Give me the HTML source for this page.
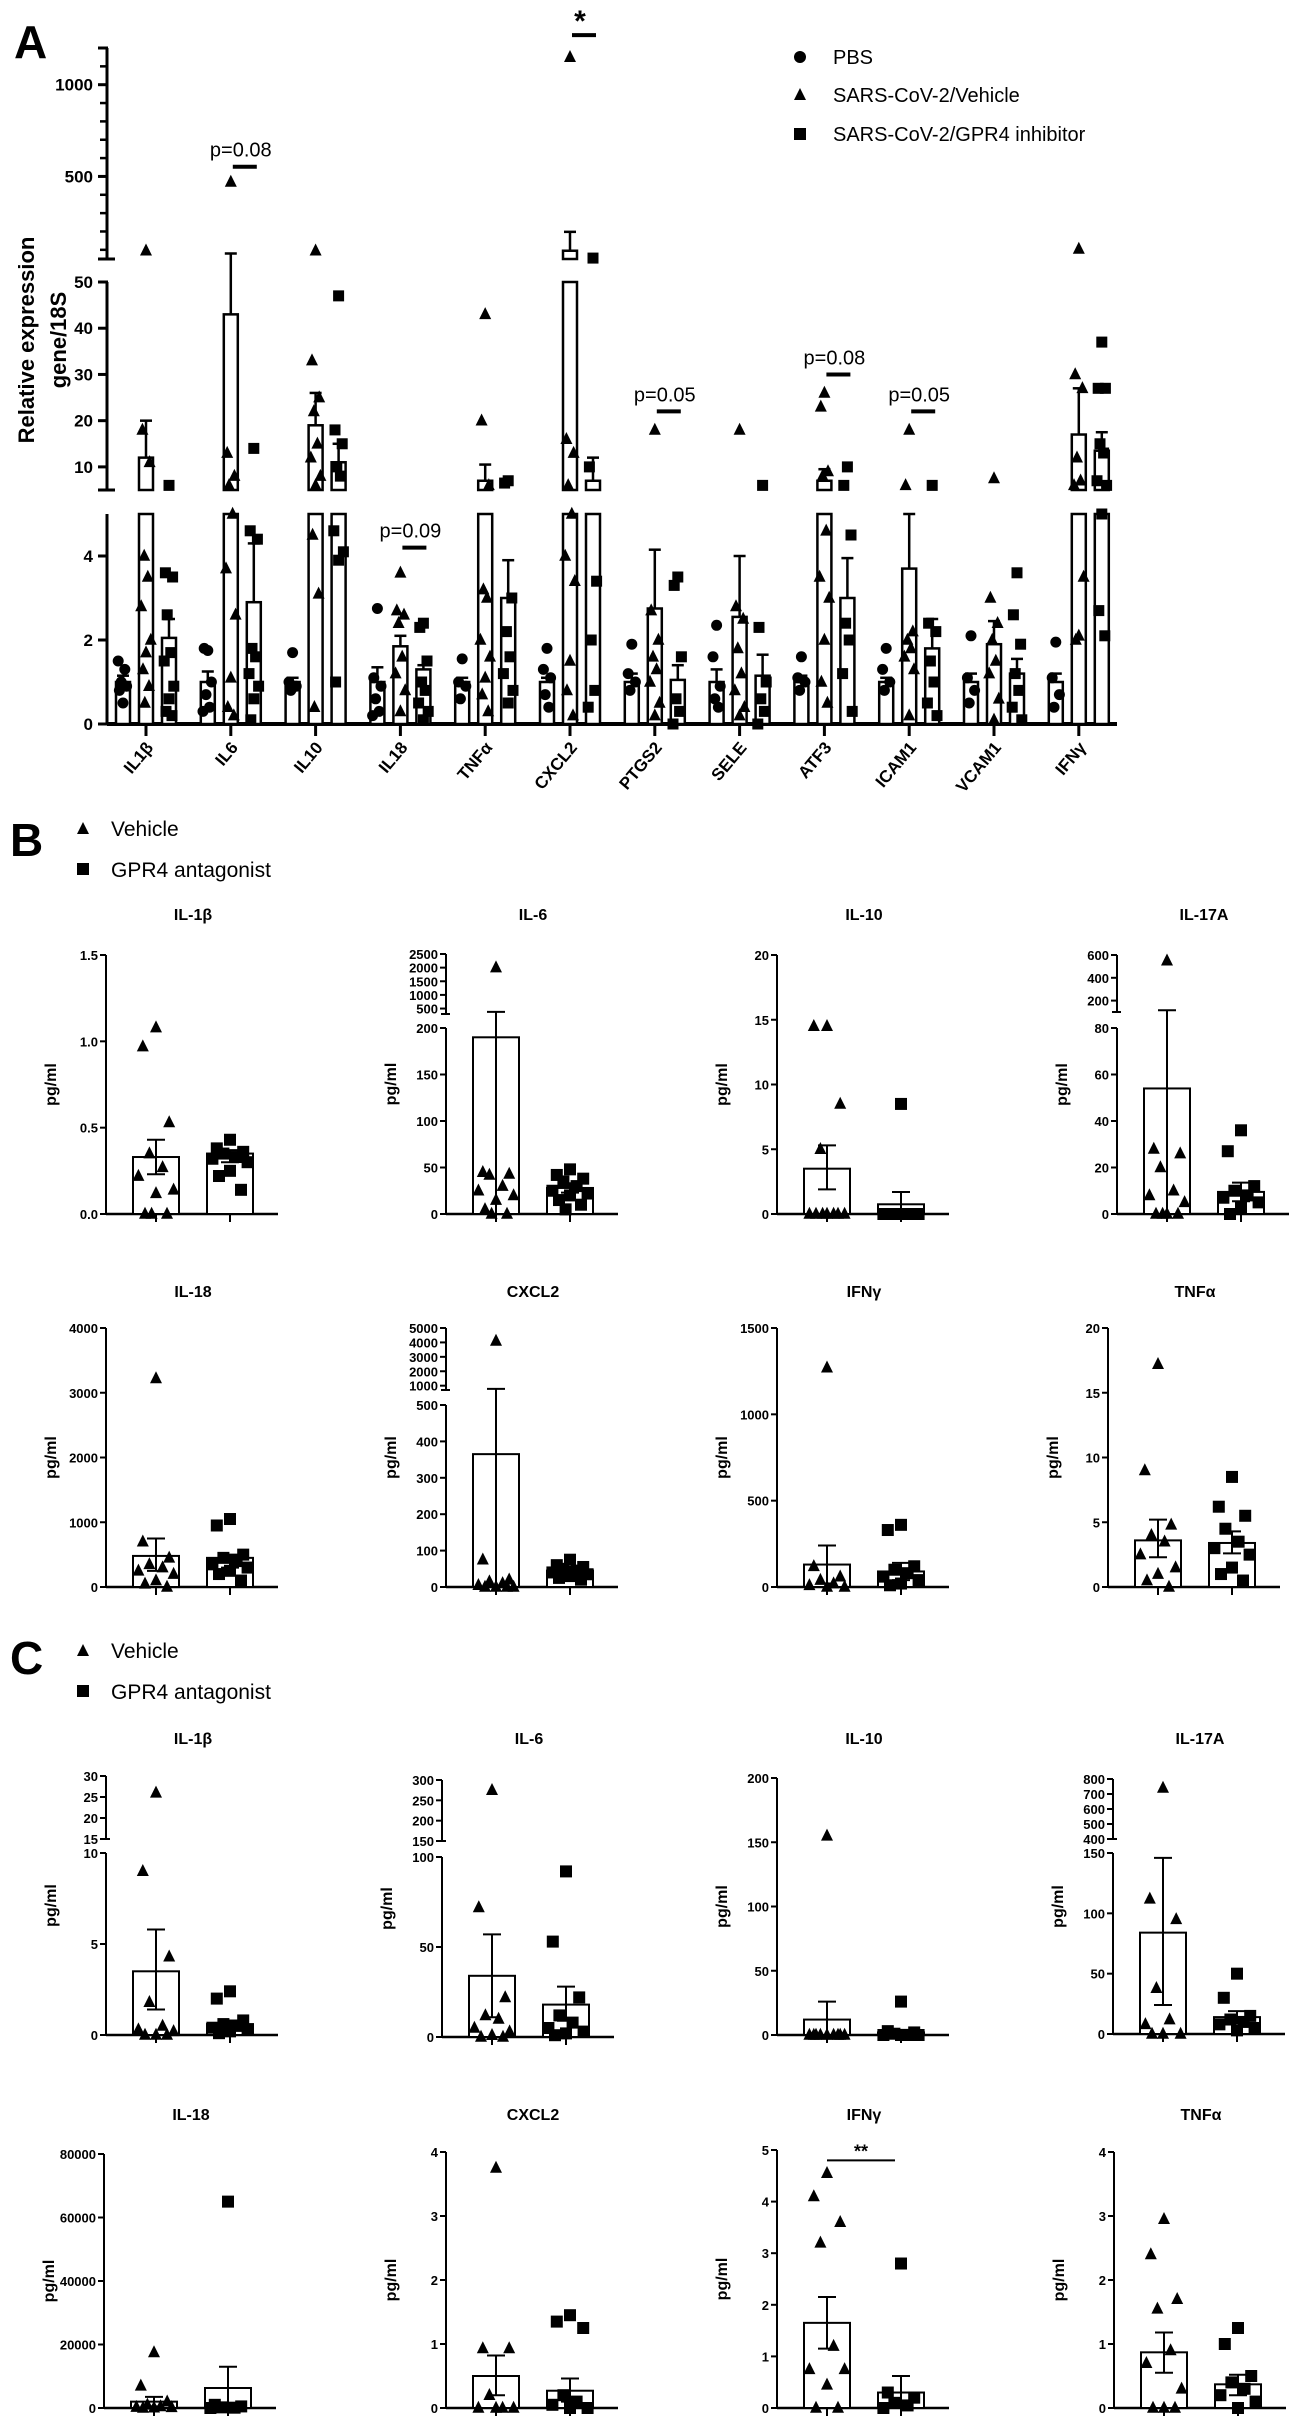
<!DOCTYPE html>
<html><head><meta charset="utf-8"><title>Figure</title>
<style>
html,body{margin:0;padding:0;background:#fff;}
svg{display:block;font-family:"Liberation Sans",Arial,sans-serif;}
.tk{font-size:13px;font-weight:bold;text-anchor:end;}
.ttl{font-size:16px;font-weight:bold;text-anchor:middle;}
</style></head>
<body>
<svg id="fig" xmlns="http://www.w3.org/2000/svg" width="1301" height="2422" viewBox="0 0 1301 2422">
<rect x="0" y="0" width="1301" height="2422" fill="#fff"/>
<text x="14" y="58" font-size="46" font-weight="bold">A</text>
<text x="10" y="856" font-size="46" font-weight="bold">B</text>
<text x="10" y="1674" font-size="46" font-weight="bold">C</text>
<text transform="translate(34,340) rotate(-90)" font-size="22" font-weight="bold" text-anchor="middle">Relative expression</text>
<text transform="translate(66,340) rotate(-90)" font-size="22" font-weight="bold" text-anchor="middle">gene/18S</text>
<g>
<circle cx="800" cy="57" r="6" fill="#000"/>
<text x="833" y="64" font-size="20">PBS</text>
<polygon points="800,88 806,100 794,100" fill="#000"/>
<text x="833" y="102" font-size="20">SARS-CoV-2/Vehicle</text>
<rect x="794" y="128" width="12" height="12" fill="#000"/>
<text x="833" y="141" font-size="20">SARS-CoV-2/GPR4 inhibitor</text>
</g>
<g>
<polygon points="83,822 89,834 77,834" fill="#000"/>
<text x="111" y="836" font-size="21">Vehicle</text>
<rect x="77" y="863" width="12" height="12" fill="#000"/>
<text x="111" y="877" font-size="21">GPR4 antagonist</text>
</g>
<g>
<polygon points="83,1644 89,1656 77,1656" fill="#000"/>
<text x="111" y="1658" font-size="21">Vehicle</text>
<rect x="77" y="1685" width="12" height="12" fill="#000"/>
<text x="111" y="1699" font-size="21">GPR4 antagonist</text>
</g>
</svg>
<script>
// ===== Panel A data =====
const A_genes=["IL1β","IL6","IL10","IL18","TNFα","CXCL2","PTGS2","SELE","ATF3","ICAM1","VCAM1","IFNγ"];
const A_pbsMean=[1,1,1,1,1,1,1,1,1,1,1,1];
const A_pbsErr=[1.15,1.25,1.1,1.35,1.1,1.1,1.2,1.3,1.15,1.1,1.2,1.2];
const A_vehMean=[12,43,19,1.85,7,95,2.75,2.55,7,3.7,1.9,17];
const A_vehErr=[20,80,26,2.1,10.5,198,4.15,4.0,9.5,5,2.45,27];
const A_gprMean=[2.05,2.9,11,1.3,3.0,7,1.05,1.15,3.0,1.8,1.2,13.5];
const A_gprErr=[2.5,4.3,15,1.4,3.9,12,1.4,1.65,3.95,2.5,1.55,17.5];
const A_pbsPts=[[0.5,0.8,0.9,1.0,1.3,1.5],[1.75,1.8,1.0,0.7,0.4,0.3],[1.7,1.0,0.9,0.8],[2.75,1.1,0.9,0.6,0.3,0.2],[1.55,1.0,0.9,0.6],[1.8,1.3,1.1,0.7,0.4],[1.9,1.2,1.0,0.8],[2.35,1.6,0.9,0.6,0.4],[1.6,1.1,1.0,0.8],[1.8,1.3,1.0,0.8],[2.1,1.1,0.8,0.5],[1.95,1.1,0.7,0.4]];
const A_vehPts=[[95,18,11,4.0,3.5,2.8,2.0,1.7,1.3,0.9,0.5],[470,13,8,6,5,3.7,2.6,1.1,0.4,0.2],[95,33,25,22,15,12,8,6,4.5,3.1,0.4],[3.6,2.7,2.6,2.4,1.6,1.2,0.8,0.3],[43,20,6,3.2,3.0,2.0,1.6,1.1,0.7,0.3],[1150,16,13,6,5,4.0,3.4,1.5,0.8,0.2],[18,2.7,2.0,1.6,1.3,1.0,0.5,0.2],[18,2.8,2.5,1.8,1.2,0.8,0.4,0.2],[26,23,9,8,4.6,3.5,3.0,2.0,1.0,0.5],[18,6,2.2,2.0,1.8,1.6,1.3,0.2],[7.5,3.0,2.4,2.0,1.5,1.2,0.6,0.1],[105,30,27,12,7,6,3.5,2.1,2.0]];
const A_gprPts=[[6,3.6,3.5,2.6,1.7,1.5,0.9,0.6,0.3,0.2],[14,4.6,4.4,1.8,1.6,1.2,0.9,0.6,0.1],[47,18,15,10,8,4.6,4.1,3.9,1.0],[2.4,2.3,1.5,1.0,0.8,0.5,0.3,0.1],[7,6.5,3.0,2.2,1.6,1.2,0.8,0.5],[55,10,3.4,2.0,0.8,0.4],[3.5,3.3,1.6,0.6,0.3,0.0],[6,2.3,1.0,0.6,0.3,0.0],[10,6,4.5,2.4,2.0,1.2,0.3],[6,2.4,2.2,1.5,1.0,0.5,0.2],[3.6,2.6,1.9,1.2,0.8,0.4,0.1],[37,27,27,15,13,7,6,5,2.7,2.1]];
const A_sigText=["p=0.08","*","p=0.09","p=0.05","p=0.08","p=0.05"];
const A_sigGene=[1,5,3,6,8,9];
const A_sigValue=[553,1270,4.2,22,30,22];

// ===== Panel B data =====
const B_titles=["IL-1β","IL-6","IL-10","IL-17A","IL-18","CXCL2","IFNγ","TNFα"];
const B_vehMean=[0.33,190,3.5,54,480,365,130,3.6];
const B_vehLo=[0.23,0,1.9,0,250,0,20,2.3];
const B_vehHi=[0.43,380,5.3,115,750,780,240,5.2];
const B_gprMean=[0.35,28,0.75,9.5,450,45,90,3.4];
const B_gprLo=[0.3,23,0,5.5,300,35,40,2.6];
const B_gprHi=[0.37,33,1.7,13.5,500,55,140,4.3];
const B_vehPts=[[1.08,0.97,0.53,0.35,0.27,0.22,0.14,0.12,0,0,0],[2000,45,43,42,30,25,20,15,5,0,0],[14.5,14.5,8.5,5,0,0,0,0,0,0,0],[550,28,26,20,10,8,5,0,0,0,0],[3220,700,450,350,300,250,200,100,50,0],[4100,75,20,15,10,5,0,0,0,0],[1270,120,60,40,20,10,0,0],[17.2,9,4.8,4.0,3.5,2.5,1.5,1.0,0.5,0]];
const B_gprPts=[[0.43,0.38,0.36,0.35,0.33,0.32,0.3,0.25,0.22,0.14],[48,42,38,35,30,25,22,20,15,10,5],[8.5,0,0,0,0,0,0,0,0,0],[36,27,12,10,8,7,5,3,0],[1050,950,500,450,400,350,300,250,200,100],[75,60,55,50,45,40,35,30,25,20],[360,330,120,100,80,60,40,20,10],[8.5,6.2,5.5,4.5,3.5,3.0,2.5,1.5,1.0,0.5]];

// ===== Panel C data =====
const C_titles=["IL-1β","IL-6","IL-10","IL-17A","IL-18","CXCL2","IFNγ","TNFα"];
const C_vehMean=[3.5,34,12,84,2000,0.5,1.65,0.87];
const C_vehLo=[1.4,11,0,24,500,0.2,1.15,0.55];
const C_vehHi=[5.8,57,26,146,3500,0.82,2.15,1.18];
const C_gprMean=[0.6,18,2,14,6300,0.27,0.3,0.37];
const C_gprLo=[0.3,9,0,9,0,0.1,0,0.2];
const C_gprHi=[0.8,28,4,19,13000,0.46,0.62,0.52];
const C_vehPts=[[26,9,4.3,1.8,0.5,0.3,0.2,0,0,0],[275,72,22,12,10,5,3,1,0,0],[155,0,0,0,0,0,0,0,0,0],[740,112,95,38,12,8,0,0,0],[17500,7000,2000,1000,500,300,200,100,0],[3.75,0.93,0.93,0.2,0,0,0,0],[4.55,4.1,3.6,3.2,1.2,0.75,0.75,0.45,0,0],[2.95,2.4,1.7,1.55,0.9,0.7,0.3,0,0,0]];
const C_gprPts=[[2.4,2.0,0.8,0.6,0.5,0.4,0.3,0.2,0.1],[92,53,22,12,8,5,3,2,1],[26,3,2,1,0,0,0,0],[50,30,15,12,10,8,5,3],[65000,1000,500,200,100,0],[1.45,1.35,1.25,0.2,0.1,0.05,0,0],[2.8,0.3,0.2,0.1,0.05,0],[1.25,1.0,0.5,0.4,0.3,0.2,0.1,0]];

const NS='http://www.w3.org/2000/svg';
const svg=document.getElementById('fig');
function mk(tag,attrs,name,parent){
  const e=document.createElementNS(NS,tag);
  for(const k in attrs) e.setAttribute(k,attrs[k]);
  
  
  (parent||svg).appendChild(e);
  return e;
}
function scaleFrom(segs){
  return function(v){
    for(let i=0;i<segs.length;i++){
      const s=segs[i];
      if(v<=s.d1||i===segs.length-1){
        const vv=Math.max(v,s.d0);
        return s.p0+(vv-s.d0)/(s.d1-s.d0)*(s.p1-s.p0);
      }
    }
  };
}
function segBar(g,segs,y,cx,w,v,name,sw){
  segs.forEach(function(s){
    if(v>s.d0){
      const top=y(Math.min(v,s.d1)), bot=s.p0;
      mk('rect',{x:cx-w/2,y:top,width:w,height:Math.max(0,bot-top),fill:'#fff',stroke:'#000','stroke-width':sw},name,g);
    }
  });
}
function marker(g,type,x,y,s,name){
  if(type==='c') mk('circle',{cx:x,cy:y,r:s/2,fill:'#000'},name,g);
  else if(type==='t') mk('polygon',{points:(x)+','+(y-s*0.6)+' '+(x+s/2)+','+(y+s*0.4)+' '+(x-s/2)+','+(y+s*0.4),fill:'#000'},name,g);
  else mk('rect',{x:x-s/2,y:y-s/2,width:s,height:s,fill:'#000'},name,g);
}
const jit=[0,-6,6,-3,3,-8,8,0,-5,5,-2,2];

// ===== Draw panel A =====
(function(){
  const g=mk('g',{},'panel-a-chart');
  const segs=[{d0:0,d1:5,p0:724,p1:514},{d0:5,d1:50,p0:490,p1:282},{d0:50,d1:1200,p0:259,p1:48}];
  const y=scaleFrom(segs);
  const ax=107, x0=146, dx=84.8;
  const xg=function(i){return x0+i*dx;};
  segs.forEach(function(s,i){
    mk('line',{x1:ax,y1:s.p0,x2:ax,y2:s.p1,stroke:'#000','stroke-width':3},'y-axis-segment-'+i,g);
    mk('line',{x1:ax-9,y1:s.p0,x2:ax+8,y2:s.p0,stroke:'#000','stroke-width':3},'axis-break-cap',g);
    if(i>0) mk('line',{x1:ax-9,y1:s.p1,x2:ax+1,y2:s.p1,stroke:'#000','stroke-width':3},'axis-cap',g);
  });
  const tickV=[0,2,4,10,20,30,40,50,500,1000];
  tickV.forEach(function(v){
    const yy=y(v);
    mk('line',{x1:ax-9,y1:yy,x2:ax,y2:yy,stroke:'#000','stroke-width':3},'y-tick',g);
    const t=mk('text',{x:ax-14,y:yy+6,'font-size':17,'font-weight':'bold','text-anchor':'end'},'y-tick-label',g);
    t.textContent=v;
  });
  for(let v=100;v<=1200;v+=100){ if(v%500===0) continue;
    mk('line',{x1:ax-7,y1:y(v),x2:ax,y2:y(v),stroke:'#000','stroke-width':2.5},'y-minor-tick',g);}
  mk('line',{x1:ax,y1:724,x2:1117,y2:724,stroke:'#000','stroke-width':4},'x-axis',g);
  A_genes.forEach(function(name,i){
    const gx=xg(i);
    const gg=mk('g',{},'gene-group-'+name,g);
    mk('line',{x1:gx,y1:724,x2:gx,y2:736,stroke:'#000','stroke-width':3},'x-tick',gg);
    const lb=mk('text',{transform:'translate('+(gx+8)+',748) rotate(-50)','font-size':17,'font-weight':'bold','text-anchor':'end'},'x-tick-label',gg);
    lb.textContent=name;
    const groups=[[A_pbsMean,A_pbsErr,A_pbsPts,'c',-23,11],[A_vehMean,A_vehErr,A_vehPts,'t',0,12],[A_gprMean,A_gprErr,A_gprPts,'s',23,11]];
    groups.forEach(function(gr,k){
      const cx=gx+gr[4];
      segBar(gg,segs,y,cx,14,gr[0][i],'bar',2.5);
      mk('line',{x1:cx,y1:y(gr[0][i]),x2:cx,y2:y(gr[1][i]),stroke:'#000','stroke-width':2.5},'error-bar',gg);
      mk('line',{x1:cx-6,y1:y(gr[1][i]),x2:cx+6,y2:y(gr[1][i]),stroke:'#000','stroke-width':2.5},'error-cap',gg);
      gr[2][i].forEach(function(v,j){
        marker(gg,gr[3],cx+jit[j%jit.length]*0.6,y(v),gr[5],'data-point');
      });
    });
  });
  A_sigText.forEach(function(txt,k){
    const cx=xg(A_sigGene[k])+14, yy=y(A_sigValue[k]);
    mk('line',{x1:cx-12,y1:yy,x2:cx+12,y2:yy,stroke:'#000','stroke-width':4},'significance-bar',g);
    const t=mk('text',{x:cx-4,y:yy-(txt==='*'?4:10),'font-size':txt==='*'?30:20,'font-weight':txt==='*'?'bold':'normal','text-anchor':'middle'},'significance-label',g);
    t.textContent=txt;
  });
})();

// ===== Small charts (B, C) =====
function smallChart(prefix,title,ax,titleY,segs,ticks,labelFmt,vm,vlo,vhi,gm,glo,ghi,vp,gp,idx){
  const g=mk('g',{},prefix+'-chart-'+title);
  const y=scaleFrom(segs);
  const zero=segs[0].p0;
  const tt=mk('text',{x:ax+87,y:titleY,class:'ttl'},'chart-title',g);
  tt.textContent=title;
  const top=segs[segs.length-1].p1;
  const yl=mk('text',{transform:'translate('+(ax-50)+','+((top+zero)/2)+') rotate(-90)','font-size':16,'font-weight':'bold','text-anchor':'middle'},'y-axis-title',g);
  yl.textContent='pg/ml';
  segs.forEach(function(s,i){
    mk('line',{x1:ax,y1:s.p0,x2:ax,y2:s.p1,stroke:'#000','stroke-width':2},'y-axis-segment',g);
    if(segs.length>1){
      mk('line',{x1:ax-5,y1:s.p0,x2:ax+4,y2:s.p0,stroke:'#000','stroke-width':2},'axis-break-cap',g);
    }
  });
  ticks.forEach(function(v){
    const yy=y(v);
    mk('line',{x1:ax-6,y1:yy,x2:ax,y2:yy,stroke:'#000','stroke-width':2},'y-tick',g);
    const t=mk('text',{x:ax-8,y:yy+5,class:'tk'},'y-tick-label',g);
    t.textContent=labelFmt(v);
  });
  mk('line',{x1:ax,y1:zero,x2:ax+172,y2:zero,stroke:'#000','stroke-width':2.5},'x-axis',g);
  const groups=[[vm,vlo,vhi,vp,'t',50],[gm,glo,ghi,gp,'s',124]];
  groups.forEach(function(gr){
    const cx=ax+gr[5];
    mk('line',{x1:cx,y1:zero,x2:cx,y2:zero+8,stroke:'#000','stroke-width':2},'x-tick',g);
    segBar(g,segs,y,cx,46,gr[0][idx],'bar',2);
    gr[3][idx].forEach(function(v,j){
      marker(g,gr[4],cx+jit[j%jit.length]*2.2,y(v),12,'data-point');
    });
    const ylo=y(gr[1][idx]), yhi=y(gr[2][idx]);
    mk('line',{x1:cx,y1:ylo,x2:cx,y2:yhi,stroke:'#000','stroke-width':2},'error-bar',g);
    mk('line',{x1:cx-9,y1:yhi,x2:cx+9,y2:yhi,stroke:'#000','stroke-width':2},'error-cap-high',g);
    mk('line',{x1:cx-9,y1:ylo,x2:cx+9,y2:ylo,stroke:'#000','stroke-width':2},'error-cap-low',g);
  });
  return {g:g,y:y};
}
const fInt=function(v){return String(v);};
const f1=function(v){return v.toFixed(1);};
const range=function(a,b,s){const r=[];for(let v=a;v<=b+1e-9;v+=s)r.push(Math.round(v*100)/100);return r;};

const B_cfg=[
 {ax:106,ty:920,segs:[{d0:0,d1:1.5,p0:1214,p1:955}],ticks:range(0,1.5,0.5),fmt:f1},
 {ax:446,ty:920,segs:[{d0:0,d1:200,p0:1214,p1:1028},{d0:300,d1:2500,p0:1014,p1:954}],ticks:range(0,200,50).concat(range(500,2500,500)),fmt:fInt},
 {ax:777,ty:920,segs:[{d0:0,d1:20,p0:1214,p1:955}],ticks:range(0,20,5),fmt:fInt},
 {ax:1117,ty:920,segs:[{d0:0,d1:80,p0:1214,p1:1028},{d0:100,d1:600,p0:1012,p1:955}],ticks:range(0,80,20).concat([200,400,600]),fmt:fInt},
 {ax:106,ty:1297,segs:[{d0:0,d1:4000,p0:1587,p1:1328}],ticks:range(0,4000,1000),fmt:fInt},
 {ax:446,ty:1297,segs:[{d0:0,d1:500,p0:1587,p1:1405},{d0:700,d1:5000,p0:1390,p1:1328}],ticks:range(0,500,100).concat(range(1000,5000,1000)),fmt:fInt},
 {ax:777,ty:1297,segs:[{d0:0,d1:1500,p0:1587,p1:1328}],ticks:range(0,1500,500),fmt:fInt},
 {ax:1108,ty:1297,segs:[{d0:0,d1:20,p0:1587,p1:1328}],ticks:range(0,20,5),fmt:fInt}
];
B_cfg.forEach(function(c,i){
  smallChart('b',B_titles[i],c.ax,c.ty,c.segs,c.ticks,c.fmt,B_vehMean,B_vehLo,B_vehHi,B_gprMean,B_gprLo,B_gprHi,B_vehPts,B_gprPts,i);
});

const C_cfg=[
 {ax:106,ty:1744,segs:[{d0:0,d1:10,p0:2035,p1:1853},{d0:15,d1:30,p0:1839,p1:1776}],ticks:[0,5,10,15,20,25,30],fmt:fInt},
 {ax:442,ty:1744,segs:[{d0:0,d1:100,p0:2037,p1:1857},{d0:150,d1:300,p0:1841,p1:1780}],ticks:[0,50,100,150,200,250,300],fmt:fInt},
 {ax:777,ty:1744,segs:[{d0:0,d1:200,p0:2035,p1:1778}],ticks:range(0,200,50),fmt:fInt},
 {ax:1113,ty:1744,segs:[{d0:0,d1:150,p0:2034,p1:1853},{d0:400,d1:800,p0:1839,p1:1779}],ticks:[0,50,100,150,400,500,600,700,800],fmt:fInt},
 {ax:104,ty:2120,segs:[{d0:0,d1:80000,p0:2408,p1:2154}],ticks:range(0,80000,20000),fmt:fInt},
 {ax:446,ty:2120,segs:[{d0:0,d1:4,p0:2408,p1:2152}],ticks:range(0,4,1),fmt:fInt},
 {ax:777,ty:2120,segs:[{d0:0,d1:5,p0:2408,p1:2150}],ticks:range(0,5,1),fmt:fInt},
 {ax:1114,ty:2120,segs:[{d0:0,d1:4,p0:2408,p1:2152}],ticks:range(0,4,1),fmt:fInt}
];
const C_sigText="**";
const C_sigIndex=6;
const C_sigValue=4.8;
C_cfg.forEach(function(c,i){
  const r=smallChart('c',C_titles[i],c.ax,c.ty,c.segs,c.ticks,c.fmt,C_vehMean,C_vehLo,C_vehHi,C_gprMean,C_gprLo,C_gprHi,C_vehPts,C_gprPts,i);
  if(i===C_sigIndex){
    const yy=r.y(C_sigValue);
    mk('line',{x1:c.ax+50,y1:yy,x2:c.ax+118,y2:yy,stroke:'#000','stroke-width':2},'significance-bar',r.g);
    const t=mk('text',{x:c.ax+84,y:yy-3,'font-size':18,'font-weight':'bold','text-anchor':'middle'},'significance-label',r.g);
    t.textContent=C_sigText;
  }
});
</script>
</body></html>
